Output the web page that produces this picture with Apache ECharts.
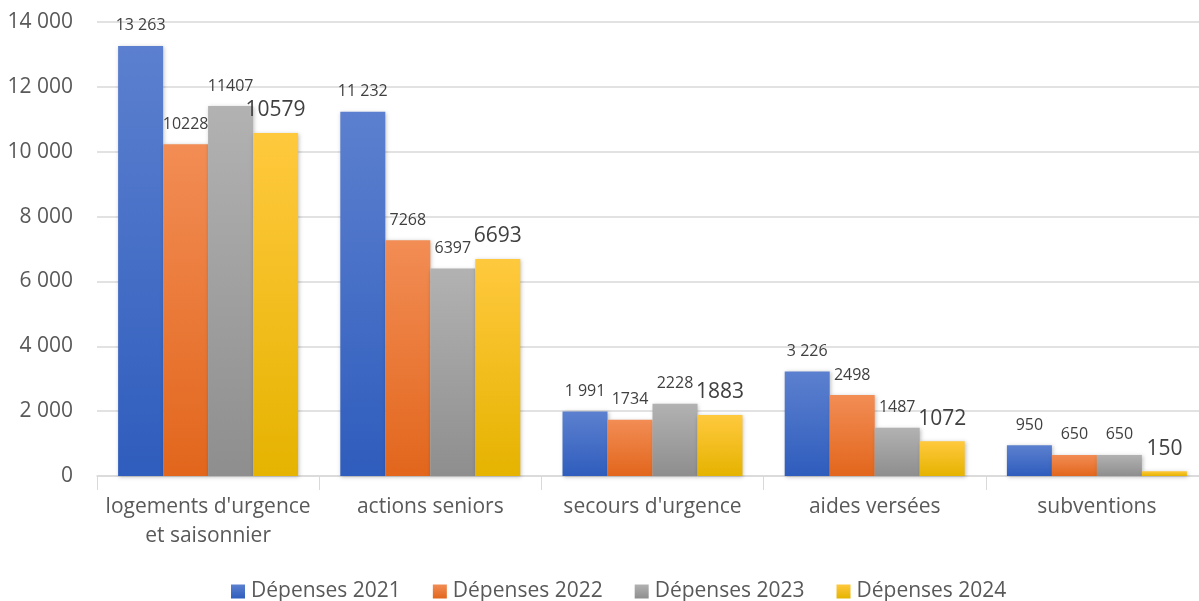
<!DOCTYPE html>
<html><head><meta charset="utf-8">
<script src="https://cdn.jsdelivr.net/npm/echarts@6/dist/echarts.min.js"></script>
<style>html,body{margin:0;padding:0;background:#fff}#c{width:1199px;height:601px}</style>
</head><body><div id="c"></div>
<script>
const categories = ["logements d'urgence\net saisonnier", "actions seniors", "secours d'urgence", "aides versées", "subventions"];
const seriesNames = ["Dépenses 2021", "Dépenses 2022", "Dépenses 2023", "Dépenses 2024"];
const d2021 = [13263, 11232, 1991, 3226, 950];
const d2022 = [10228, 7268, 1734, 2498, 650];
const d2023 = [11407, 6397, 2228, 1487, 650];
const d2024 = [10579, 6693, 1883, 1072, 150];
const yTicks = [0, 2000, 4000, 6000, 8000, 10000, 12000, 14000];

const fmtSpace = v => String(v).replace(/\B(?=(\d{3})+(?!\d))/g, ' ');
const grad = (a, b) => new echarts.graphic.LinearGradient(0, 0, 0, 1, [{offset: 0, color: a}, {offset: 1, color: b}]);
const styles = [
  {top: '#5c80cf', bot: '#2f5dbd', legend: '#4472c4', lfs: 16, fmt: p => fmtSpace(p.value)},
  {top: '#f28d55', bot: '#e2661c', legend: '#ed7d31', lfs: 16, fmt: p => String(p.value)},
  {top: '#b2b2b2', bot: '#8e8e8e', legend: '#a5a5a5', lfs: 16, fmt: p => String(p.value)},
  {top: '#ffc93e', bot: '#e5b300', legend: '#ffc000', lfs: 21, fmt: p => String(p.value)}
];
const dataArr = [d2021, d2022, d2023, d2024];

const chart = echarts.init(document.getElementById('c'), null, {renderer: 'canvas'});
chart.setOption({
  animation: false,
  textStyle: {fontFamily: 'Open Sans, Noto Sans, sans-serif'},
  color: styles.map(s => s.legend),
  grid: {left: 97, width: 1111, top: 22, bottom: 125, containLabel: false, outerBoundsMode: 'none'},
  legend: {
    bottom: -6, left: 226, itemWidth: 14, itemHeight: 14, itemGap: 32,
    icon: 'rect',
    textStyle: {fontSize: 21, color: '#595959', padding: [0, 0, 0, 1]},
    data: seriesNames.map((n, i) => ({name: n, itemStyle: {color: grad(styles[i].top, styles[i].bot)}}))
  },
  xAxis: {
    type: 'category', data: categories,
    axisLine: {lineStyle: {color: '#d9d9d9', width: 1.5}},
    axisTick: {show: true, length: 14, lineStyle: {color: '#d9d9d9'}},
    axisLabel: {interval: 0, fontSize: 21, color: '#595959', lineHeight: 29, margin: 17}
  },
  yAxis: {
    type: 'value', min: 0, max: 14000, interval: 2000,
    axisLine: {show: false}, axisTick: {show: false},
    splitLine: {lineStyle: {color: '#d9d9d9', width: 1.5}},
    axisLabel: {fontSize: 21, color: '#595959', margin: 24, formatter: v => fmtSpace(v)}
  },
  series: dataArr.map((d, i) => ({
    name: seriesNames[i], type: 'bar', data: d,
    barGap: '0%', barCategoryGap: '19%',
    itemStyle: {color: grad(styles[i].top, styles[i].bot), shadowBlur: 4, shadowColor: 'rgba(0,0,0,0.25)', shadowOffsetX: 1, shadowOffsetY: 1},
    label: {show: true, position: 'top', distance: 12, fontSize: styles[i].lfs, color: '#404040', formatter: styles[i].fmt}
  }))
});
</script></body></html>
